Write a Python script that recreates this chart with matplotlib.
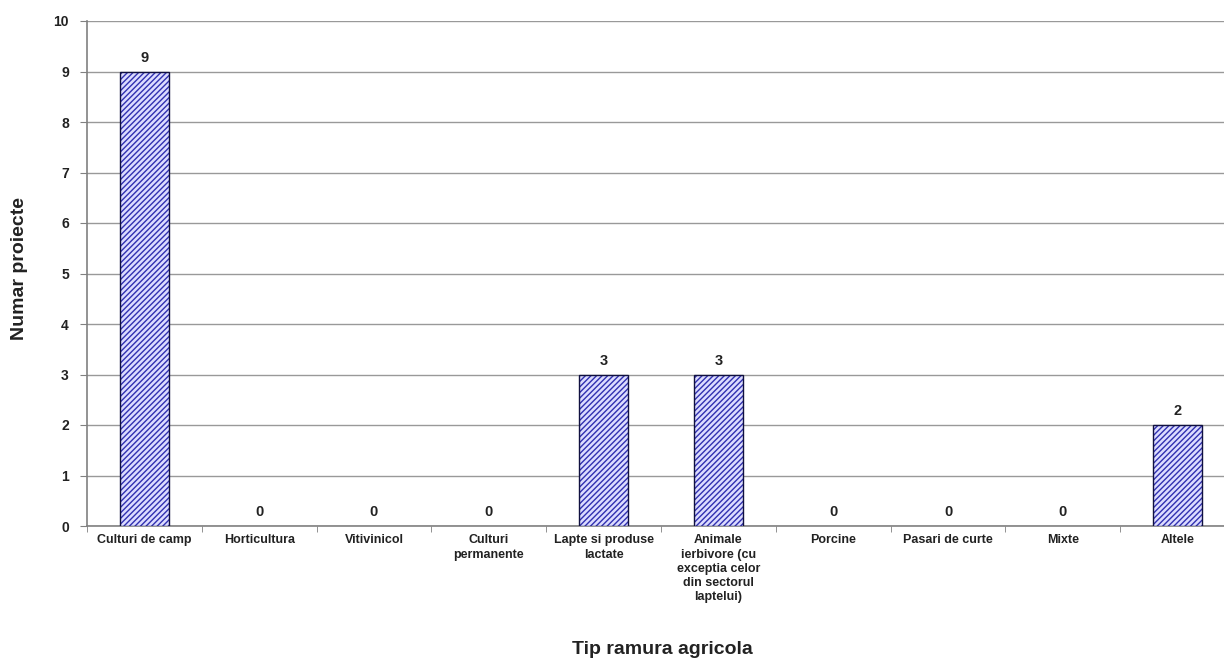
import matplotlib.pyplot as plt
import numpy as np

categories = [
    "Culturi de camp", "Horticultura", "Vitivinicol", "Culturi\npermanente",
    "Lapte si produse\nlactate",
    "Animale\nierbivore (cu\nexceptia celor\ndin sectorul\nlaptelui)",
    "Porcine", "Pasari de curte", "Mixte", "Altele",
]
values = [9, 0, 0, 0, 3, 3, 0, 0, 0, 2]

plt.rcParams['font.family'] = ['Liberation Sans', 'DejaVu Sans']

fig = plt.figure(figsize=(12.24, 6.62), dpi=100)
ax = fig.add_axes([87 / 1224, 136 / 662, 1148 / 1224, 505 / 662])

x = np.arange(len(categories))
vals = np.array(values)
nz = vals > 0
# hatch layer, then black outline on top (skip empty bars)
ax.bar(x[nz], vals[nz], width=0.42, color='#dcdcff', edgecolor='#3030b0',
       hatch='//////', linewidth=0, zorder=3)
ax.bar(x[nz], vals[nz], width=0.42, fill=False, edgecolor='#101040',
       linewidth=1.0, zorder=4)

for xi, v in zip(x, values):
    ax.annotate(str(v), (xi, v), xytext=(0, 10), textcoords='offset points',
                ha='center', va='center', fontsize=10.5, fontweight='bold',
                color='#222222')

ax.set_xlim(-0.5, len(categories) - 0.5)
ax.set_ylim(0, 10)
ax.set_yticks(range(0, 11))
ax.yaxis.grid(True, color='#999999', linewidth=1.0, zorder=0)
ax.set_axisbelow(True)

ax.set_xticks(x)
ax.set_xticklabels(categories, fontsize=9, fontweight='bold', color='#222222',
                   linespacing=1.25)
ax.set_xticks(np.arange(len(categories) + 1) - 0.5, minor=True)
ax.tick_params(axis='x', which='major', length=0, pad=6)
ax.tick_params(axis='x', which='minor', length=4, color='#808080',
               direction='out')
ax.tick_params(axis='y', length=5, color='#808080', labelsize=10,
               labelcolor='#222222', pad=8)
for lbl in ax.get_yticklabels():
    lbl.set_fontweight('bold')

for side in ['top', 'right']:
    ax.spines[side].set_visible(False)
for side in ['left', 'bottom']:
    ax.spines[side].set_color('#808080')
    ax.spines[side].set_linewidth(1.2)

fig.text(662 / 1224, 1 - 649 / 662, "Tip ramura agricola", ha='center',
         va='center', fontsize=14, fontweight='bold', color='#222222')
fig.text(20 / 1224, 1 - 268 / 662, "Numar proiecte", ha='center',
         va='center', rotation=90, fontsize=14, fontweight='bold',
         color='#222222')

fig.savefig('out.png', dpi=100)
